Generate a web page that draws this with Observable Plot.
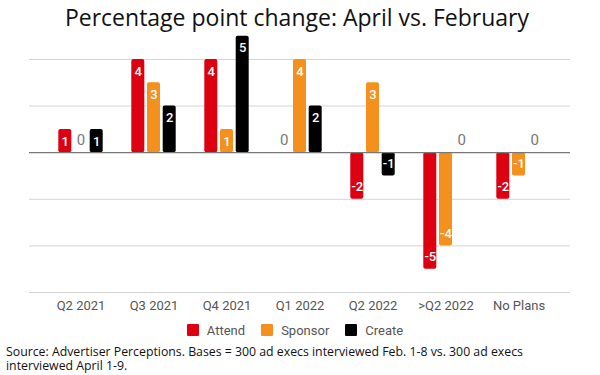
<!DOCTYPE html>
<html>
<head>
<meta charset="utf-8">
<script src="https://cdn.jsdelivr.net/npm/d3@7"></script>
<script src="https://cdn.jsdelivr.net/npm/@observablehq/plot@0.6"></script>
<style>
  html, body { margin: 0; padding: 0; background: #fff; }
  #wrap { width: 600px; height: 375px; position: relative; overflow: hidden; }
  #title { position: absolute; left: 0; top: 2px; width: 594px; text-align: center;
    font-family: "Open Sans", sans-serif; font-size: 23px; line-height: 30px; color: #111; }
  #chart { position: absolute; left: 0; top: 30px; }
  #legend { position: absolute; left: 0; top: 320px; width: 590px; height: 20px;
    display: flex; justify-content: center; align-items: center; gap: 0;
    font-family: Roboto, sans-serif; font-size: 13px; color: #555; }
  #legend .item { display: flex; align-items: center; margin: 0 8px; }
  #legend .sw { width: 12px; height: 12px; margin-right: 8px; border-radius: 1px; }
  #caption { position: absolute; left: 6px; top: 345px; width: 525px;
    font-family: "Open Sans", sans-serif; font-size: 12.3px; line-height: 13.5px; color: #111; }
</style>
</head>
<body>
<div id="wrap">
  <div id="title">Percentage point change: April vs. February</div>
  <div id="chart"></div>
  <div id="legend"></div>
  <div id="caption">Source: Advertiser Perceptions. Bases = 300 ad execs interviewed Feb. 1-8 vs. 300 ad execs interviewed April 1-9.</div>
</div>
<script>
const categories = ["Q2 2021", "Q3 2021", "Q4 2021", "Q1 2022", "Q2 2022", ">Q2 2022", "No Plans"];
const seriesNames = ["Attend", "Sponsor", "Create"];
const seriesColors = ["#dc0011", "#f4901e", "#000000"];
const attend  = [1, 4, 4, 0, -2, -5, -2];
const sponsor = [0, 3, 1, 4, 3, -4, -1];
const create  = [1, 2, 5, 2, -1, 0, 0];
const gridTicks = [-6, -4, -2, 2, 4];

const seriesValues = [attend, sponsor, create];
const data = [];
seriesNames.forEach((s, si) => {
  categories.forEach((c, ci) => {
    data.push({category: c, series: s, value: seriesValues[si][ci], si});
  });
});

const step = 15.7;
const offsets = [-step, 0, step];

const marks = [
  Plot.ruleY(gridTicks, {stroke: "#d4d4d4", strokeWidth: 1}),
];
seriesNames.forEach((s, si) => {
  const sub = data.filter(d => d.si === si);
  const nonzero = sub.filter(d => d.value !== 0);
  marks.push(Plot.barY(nonzero, {
    x: "category", y: "value", fill: seriesColors[si], dx: offsets[si], rx: 2
  }));
  marks.push(Plot.text(nonzero.filter(d => d.value > 0), {
    x: "category", y: "value", text: d => String(d.value), dx: offsets[si], dy: 12,
    fill: "#fff", fontSize: 13, fontWeight: 500, fontFamily: "Roboto"
  }));
  marks.push(Plot.text(nonzero.filter(d => d.value < 0), {
    x: "category", y: "value", text: d => String(d.value), dx: offsets[si], dy: -12,
    fill: "#fff", fontSize: 13, fontWeight: 500, fontFamily: "Roboto"
  }));
  marks.push(Plot.text(sub.filter(d => d.value === 0), {
    x: "category", y: "value", text: d => String(d.value), dx: offsets[si], dy: -12,
    fill: "#777", fontSize: 15, fontFamily: "Roboto"
  }));
});
marks.push(Plot.ruleY([0], {stroke: "#777", strokeWidth: 1.2}));
marks.push(Plot.axisX({tickSize: 0, tickPadding: 8, fontSize: 13, fontFamily: "Roboto", fill: "#555", label: null}));

const chart = Plot.plot({
  width: 600,
  height: 290,
  marginLeft: 29,
  marginRight: 30,
  marginTop: 1,
  marginBottom: 28,
  x: {domain: categories, insetLeft: 13, insetRight: 13, paddingInner: 0.819, paddingOuter: 0.41, axis: null},
  y: {domain: [-6, 5.2], axis: null},
  style: {background: "transparent", overflow: "visible", fontFamily: "Roboto", color: "#555"},
  marks
});
document.getElementById("chart").appendChild(chart);

const legend = document.getElementById("legend");
seriesNames.forEach((s, i) => {
  const item = document.createElement("div");
  item.className = "item";
  const sw = document.createElement("div");
  sw.className = "sw";
  sw.style.background = seriesColors[i];
  const label = document.createElement("span");
  label.textContent = s;
  item.appendChild(sw);
  item.appendChild(label);
  legend.appendChild(item);
});
</script>
</body>
</html>
